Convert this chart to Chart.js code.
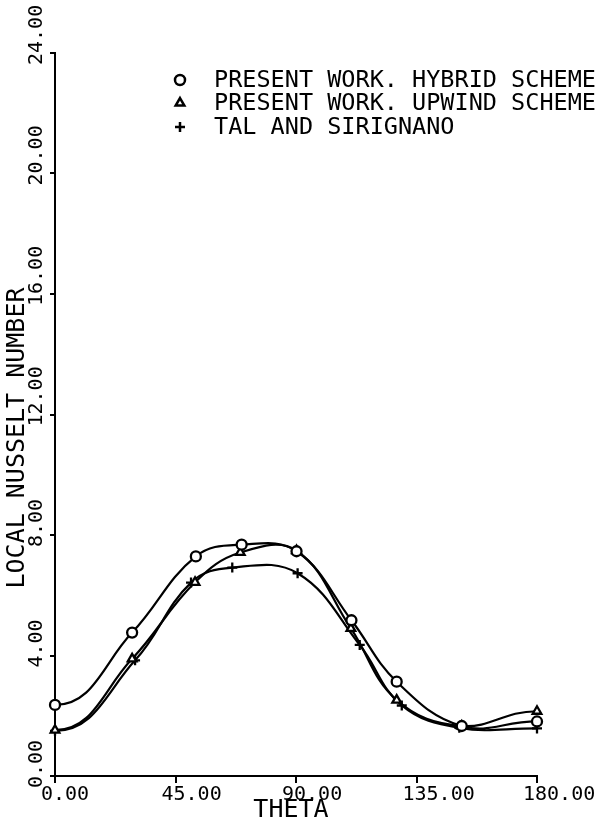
<!DOCTYPE html>
<html>
<head>
<meta charset="utf-8">
<script src="https://cdn.jsdelivr.net/npm/chart.js@4/dist/chart.umd.min.js"></script>
<style>
  html, body { margin: 0; padding: 0; background: #fff; }
  #wrap { width: 599px; height: 828px; position: relative; }
</style>
</head>
<body>
<div id="wrap"><canvas id="c" width="599" height="828"></canvas></div>
<script>
// ---- data ----
const thetaHybrid = [0, 28.8, 52.6, 69.7, 90.2, 110.7, 127.6, 151.9, 180];
const nuHybrid    = [2.36, 4.76, 7.29, 7.68, 7.46, 5.17, 3.13, 1.66, 1.81];

const thetaUpwind = [0, 28.8, 52.3, 69.2, 90.2, 110.5, 127.6, 151.9, 180];
const nuUpwind    = [1.52, 3.89, 6.43, 7.42, 7.48, 4.90, 2.52, 1.66, 2.15];

const thetaTal = [0, 29.9, 50.8, 66.2, 90.6, 113.8, 129.5, 151.0, 180];
const nuTal    = [1.50, 3.84, 6.42, 6.92, 6.73, 4.35, 2.34, 1.60, 1.58];

const xTicks = [0, 45, 90, 135, 180];
const yTicks = [0, 4, 8, 12, 16, 20, 24];
const xTickLabels = ["0.00", "45.00", "90.00", "135.00", "180.00"];
const yTickLabels = ["0.00", "4.00", "8.00", "12.00", "16.00", "20.00", "24.00"];

const seriesNames = ["PRESENT WORK. HYBRID SCHEME", "PRESENT WORK. UPWIND SCHEME", "TAL AND SIRIGNANO"];
const xTitle = "THETA";
const yTitle = "LOCAL NUSSELT NUMBER";

function pts(xs, ys) { return xs.map((x, i) => ({ x: x, y: ys[i] })); }

const FONT_MONO = '"DejaVu Sans Mono", "Liberation Mono", monospace';

const markerStyles = ['circle', 'triangle', 'cross'];

// make the spline leave the end points horizontally (as the plotter curve does)
const flatEnds = {
  id: 'flatEnds',
  beforeDatasetDraw(chart, args) {
    const line = args.meta.dataset;
    if (!line) return;
    line.updateControlPoints(chart.chartArea, 'x');
    const p = line.points;
    if (!p || p.length < 2) return;
    const a = p[0], b = p[1];
    a.cp2x = a.x + (b.x - a.x) * 0.5;
    a.cp2y = a.y;
    const z = p[p.length - 1], y = p[p.length - 2];
    z.cp1x = z.x - (z.x - y.x) * 0.45;
    z.cp1y = z.y;
    line._path = undefined;
  }
};

const labelPlugin = {
  id: 'customLabels',
  afterDraw(chart) {
    const ctx = chart.ctx;
    const xs = chart.scales.x, ys = chart.scales.y;
    ctx.save();
    ctx.fillStyle = '#000';
    // x tick labels
    ctx.font = '20px ' + FONT_MONO;
    ctx.textAlign = 'left';
    ctx.textBaseline = 'alphabetic';
    xTicks.forEach((v, i) => {
      const px = xs.getPixelForValue(v);
      ctx.fillText(xTickLabels[i], px - 14, ys.bottom + 24);
    });
    // y tick labels (rotated, reading upward, starting just below tick)
    yTicks.forEach((v, i) => {
      const py = ys.getPixelForValue(v);
      ctx.save();
      ctx.translate(xs.left - 13, py + 12);
      ctx.rotate(-Math.PI / 2);
      ctx.textAlign = 'left';
      ctx.textBaseline = 'alphabetic';
      ctx.fillText(yTickLabels[i], 0, 0);
      ctx.restore();
    });
    // axis titles
    ctx.font = '25px ' + FONT_MONO;
    ctx.textAlign = 'center';
    ctx.textBaseline = 'middle';
    ctx.fillText(xTitle, (xs.left + xs.right) / 2 - 5, 810);
    ctx.save();
    ctx.translate(17, 438);
    ctx.rotate(-Math.PI / 2);
    ctx.fillText(yTitle, 0, 0);
    ctx.restore();

    // legend
    const rowsY = [80, 103, 127];
    ctx.font = '23.5px ' + FONT_MONO;
    ctx.textAlign = 'left';
    ctx.textBaseline = 'middle';
    seriesNames.forEach((name, i) => {
      const opts = {
        pointStyle: markerStyles[i], radius: 5, rotation: 0,
        borderWidth: 2.5
      };
      ctx.strokeStyle = '#000';
      ctx.fillStyle = '#fff';
      ctx.lineWidth = 2.5;
      Chart.helpers.drawPoint(ctx, opts, 180, rowsY[i]);
      ctx.fillStyle = '#000';
      ctx.fillText(name, 214, rowsY[i] + 1);
    });
    ctx.restore();
  }
};

function ds(label, data, style) {
  return {
    label: label,
    data: data,
    borderColor: '#000',
    borderWidth: 2.2,
    backgroundColor: '#fff',
    pointStyle: style,
    pointRadius: 5,
    pointBorderWidth: 2.3,
    pointBorderColor: '#000',
    pointBackgroundColor: '#fff',
    tension: 0.4,
    fill: false,
    clip: false
  };
}

new Chart(document.getElementById('c'), {
  type: 'line',
  data: {
    datasets: [
      ds(seriesNames[0], pts(thetaHybrid, nuHybrid), 'circle'),
      ds(seriesNames[1], pts(thetaUpwind, nuUpwind), 'triangle'),
      ds(seriesNames[2], pts(thetaTal, nuTal), 'cross')
    ]
  },
  options: {
    responsive: false,
    animation: false,
    devicePixelRatio: 1,
    layout: { padding: { top: 53, right: 62, left: 0, bottom: 0 } },
    plugins: { legend: { display: false }, tooltip: { enabled: false } },
    scales: {
      x: {
        type: 'linear', min: 0, max: 180,
        afterBuildTicks: s => { s.ticks = xTicks.map(v => ({ value: v })); },
        afterFit: s => { s.height = 52; },
        ticks: { display: false },
        grid: { drawOnChartArea: false, drawTicks: true, tickLength: 7, color: '#000', lineWidth: 2 },
        border: { display: true, color: '#000', width: 2 }
      },
      y: {
        type: 'linear', min: 0, max: 24,
        afterBuildTicks: s => { s.ticks = yTicks.map(v => ({ value: v })); },
        afterFit: s => { s.width = 55; },
        ticks: { display: false },
        grid: { drawOnChartArea: false, drawTicks: true, tickLength: 5, color: '#000', lineWidth: 2 },
        border: { display: true, color: '#000', width: 2 }
      }
    }
  },
  plugins: [flatEnds, labelPlugin]
});
</script>
</body>
</html>
